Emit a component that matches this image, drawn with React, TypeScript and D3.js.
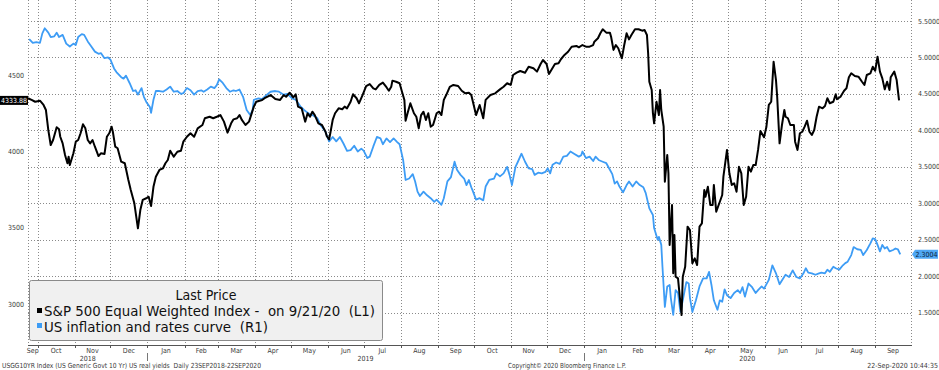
import React from "react";
import * as d3 from "d3";

const W = 939;
const H = 370;

const spxDates = [
"2018-09-23","2018-09-26","2018-09-29","2018-10-03","2018-10-06","2018-10-08","2018-10-10","2018-10-12","2018-10-14","2018-10-17",
"2018-10-19","2018-10-20","2018-10-22","2018-10-24","2018-10-26","2018-10-27","2018-10-28","2018-10-31","2018-11-02","2018-11-04",
"2018-11-06","2018-11-08","2018-11-10","2018-11-12","2018-11-14","2018-11-16","2018-11-18","2018-11-21","2018-11-23","2018-11-26",
"2018-11-28","2018-11-30","2018-12-02","2018-12-03","2018-12-05","2018-12-07","2018-12-10","2018-12-13","2018-12-16","2018-12-18",
"2018-12-21","2018-12-24","2018-12-26","2018-12-28","2018-12-31","2019-01-02","2019-01-04","2019-01-06","2019-01-08","2019-01-11",
"2019-01-14","2019-01-16","2019-01-18","2019-01-20","2019-01-23","2019-01-26","2019-01-29","2019-01-31","2019-02-03","2019-02-06",
"2019-02-09","2019-02-12","2019-02-16","2019-02-18","2019-02-22","2019-02-25","2019-02-28","2019-03-03","2019-03-06","2019-03-09",
"2019-03-12","2019-03-14","2019-03-17","2019-03-19","2019-03-21","2019-03-24","2019-03-27","2019-03-31","2019-04-02","2019-04-07",
"2019-04-09","2019-04-14","2019-04-18","2019-04-22","2019-04-25","2019-04-27","2019-04-30","2019-05-03","2019-05-05","2019-05-07",
"2019-05-10","2019-05-13","2019-05-15","2019-05-17","2019-05-19","2019-05-21","2019-05-24","2019-05-27","2019-05-30","2019-05-31",
"2019-06-02","2019-06-03","2019-06-05","2019-06-07","2019-06-10","2019-06-13","2019-06-15","2019-06-17","2019-06-20","2019-06-22",
"2019-06-25","2019-06-27","2019-06-30","2019-07-03","2019-07-06","2019-07-09","2019-07-11","2019-07-14","2019-07-17","2019-07-20",
"2019-07-22","2019-07-24","2019-07-25","2019-07-28","2019-07-31","2019-08-02","2019-08-04","2019-08-05","2019-08-07","2019-08-09",
"2019-08-12","2019-08-14","2019-08-16","2019-08-18","2019-08-20","2019-08-22","2019-08-24","2019-08-26","2019-08-28","2019-08-31",
"2019-09-02","2019-09-04","2019-09-06","2019-09-08","2019-09-11","2019-09-14","2019-09-18","2019-09-21","2019-09-24","2019-09-27",
"2019-09-29","2019-10-03","2019-10-06","2019-10-09","2019-10-11","2019-10-15","2019-10-19","2019-10-23","2019-10-26","2019-10-29",
"2019-11-01","2019-11-03","2019-11-06","2019-11-09","2019-11-13","2019-11-16","2019-11-20","2019-11-23","2019-11-26","2019-11-28",
"2019-12-01","2019-12-03","2019-12-05","2019-12-08","2019-12-11","2019-12-13","2019-12-16","2019-12-19","2019-12-22","2019-12-26",
"2019-12-28","2019-12-31","2020-01-03","2020-01-06","2020-01-09","2020-01-10","2020-01-13","2020-01-15","2020-01-17","2020-01-20",
"2020-01-23","2020-01-24","2020-01-26","2020-01-28","2020-01-30","2020-02-02","2020-02-04","2020-02-06","2020-02-08","2020-02-10",
"2020-02-13","2020-02-16","2020-02-19","2020-02-21","2020-02-23","2020-02-24","2020-02-25","2020-02-27","2020-02-28","2020-02-29",
"2020-03-02","2020-03-04","2020-03-05","2020-03-06","2020-03-08","2020-03-09","2020-03-11","2020-03-12","2020-03-13","2020-03-15",
"2020-03-16","2020-03-17","2020-03-18","2020-03-20","2020-03-23","2020-03-24","2020-03-26","2020-03-28","2020-03-30","2020-04-01",
"2020-04-03","2020-04-05","2020-04-07","2020-04-09","2020-04-11","2020-04-12","2020-04-14","2020-04-16","2020-04-18","2020-04-19",
"2020-04-21","2020-04-24","2020-04-26","2020-04-27","2020-04-30","2020-05-02","2020-05-04","2020-05-06","2020-05-08","2020-05-10",
"2020-05-12","2020-05-14","2020-05-16","2020-05-18","2020-05-20","2020-05-22","2020-05-24","2020-05-26","2020-05-28","2020-05-31",
"2020-06-02","2020-06-04","2020-06-06","2020-06-08","2020-06-10","2020-06-11","2020-06-13","2020-06-15","2020-06-17","2020-06-18",
"2020-06-20","2020-06-22","2020-06-25","2020-06-26","2020-06-28","2020-06-30","2020-07-02","2020-07-04","2020-07-06","2020-07-08",
"2020-07-10","2020-07-12","2020-07-14","2020-07-16","2020-07-19","2020-07-21","2020-07-23","2020-07-25","2020-07-28","2020-07-30",
"2020-07-31","2020-08-03","2020-08-06","2020-08-08","2020-08-10","2020-08-12","2020-08-15","2020-08-18","2020-08-21","2020-08-23",
"2020-08-25","2020-08-28","2020-08-30","2020-09-01","2020-09-03","2020-09-05","2020-09-07","2020-09-09","2020-09-11","2020-09-13",
"2020-09-14","2020-09-17","2020-09-19","2020-09-21"
];
const spxValues = [
4348,4337,4325,4332,4304,4271,4140,4042,4075,4158,
4145,4096,4053,3977,3923,3966,3911,3988,4064,4075,
4119,4178,4151,4075,4053,4075,4031,3970,3988,3983,
4096,4119,4162,4129,4031,4021,3933,3923,3813,3748,
3661,3497,3617,3683,3694,3704,3643,3769,3835,3879,
3890,3923,3944,4005,3966,3998,4005,4064,4096,4119,
4096,4151,4173,4217,4227,4217,4227,4238,4195,4123,
4184,4210,4217,4238,4206,4173,4195,4293,4325,4337,
4348,4369,4343,4337,4369,4358,4384,4354,4374,4293,
4282,4195,4250,4227,4260,4238,4184,4173,4129,4101,
4079,4119,4206,4250,4282,4276,4293,4282,4325,4374,
4348,4315,4369,4428,4441,4413,4406,4435,4450,4420,
4397,4423,4463,4456,4446,4391,4337,4201,4260,4315,
4250,4227,4151,4238,4260,4206,4250,4162,4173,4250,
4260,4238,4337,4369,4423,4435,4428,4397,4380,4384,
4369,4238,4304,4217,4337,4369,4380,4406,4423,4446,
4435,4500,4515,4526,4515,4554,4544,4522,4572,4598,
4572,4507,4533,4572,4577,4603,4631,4652,4685,4690,
4681,4696,4685,4685,4696,4718,4740,4773,4799,4777,
4777,4750,4664,4696,4675,4609,4696,4773,4733,4762,
4799,4799,4790,4794,4762,4642,4456,4402,4250,4184,
4325,4238,4402,4271,4162,3802,3977,3857,3388,3650,
3203,3454,3181,3170,2930,3181,3246,3508,3486,3269,
3301,3257,3508,3530,3748,3704,3769,3650,3650,3781,
3606,3671,3715,3835,4010,3857,3781,3792,3737,3900,
3857,3650,3704,3900,3868,3911,3911,4010,4134,4093,
4162,4304,4325,4587,4467,4358,4053,4173,4271,4227,
4217,4173,4173,4064,4010,4119,4129,4162,4201,4129,
4108,4140,4227,4293,4282,4297,4348,4315,4325,4374,
4341,4358,4397,4413,4485,4511,4493,4489,4456,4435,
4500,4511,4554,4528,4620,4522,4478,4406,4456,4402,
4485,4522,4467,4333.88
];

const ryDates = [
"2018-09-24","2018-09-27","2018-09-30","2018-10-03","2018-10-05","2018-10-07","2018-10-10","2018-10-12","2018-10-15","2018-10-17",
"2018-10-19","2018-10-22","2018-10-25","2018-10-28","2018-10-31","2018-11-02","2018-11-04","2018-11-07","2018-11-09","2018-11-12",
"2018-11-15","2018-11-18","2018-11-21","2018-11-23","2018-11-26","2018-11-29","2018-12-01","2018-12-04","2018-12-06","2018-12-10",
"2018-12-12","2018-12-14","2018-12-17","2018-12-20","2018-12-22","2018-12-24","2018-12-27","2018-12-29","2018-12-31","2019-01-03",
"2019-01-04","2019-01-06","2019-01-08","2019-01-11","2019-01-14","2019-01-17","2019-01-20","2019-01-23","2019-01-26","2019-01-29",
"2019-01-31","2019-02-03","2019-02-06","2019-02-09","2019-02-12","2019-02-15","2019-02-17","2019-02-20","2019-02-23","2019-02-26",
"2019-02-28","2019-03-02","2019-03-05","2019-03-08","2019-03-11","2019-03-14","2019-03-16","2019-03-19","2019-03-22","2019-03-25",
"2019-03-28","2019-03-30","2019-03-31","2019-04-04","2019-04-07","2019-04-11","2019-04-14","2019-04-18","2019-04-21","2019-04-25",
"2019-04-28","2019-05-02","2019-05-05","2019-05-09","2019-05-12","2019-05-16","2019-05-19","2019-05-23","2019-05-26","2019-05-30",
"2019-06-02","2019-06-05","2019-06-08","2019-06-11","2019-06-14","2019-06-17","2019-06-20","2019-06-23","2019-06-26","2019-06-29",
"2019-07-01","2019-07-04","2019-07-06","2019-07-09","2019-07-12","2019-07-15","2019-07-17","2019-07-20","2019-07-23","2019-07-26",
"2019-07-29","2019-07-31","2019-08-03","2019-08-05","2019-08-08","2019-08-11","2019-08-13","2019-08-15","2019-08-17","2019-08-20",
"2019-08-23","2019-08-26","2019-08-29","2019-08-31","2019-09-04","2019-09-06","2019-09-09","2019-09-12","2019-09-15","2019-09-17",
"2019-09-20","2019-09-23","2019-09-25","2019-09-27","2019-09-29","2019-09-30","2019-10-03","2019-10-06","2019-10-09","2019-10-11",
"2019-10-14","2019-10-18","2019-10-20","2019-10-23","2019-10-26","2019-10-29","2019-10-31","2019-11-02","2019-11-05","2019-11-07",
"2019-11-10","2019-11-13","2019-11-16","2019-11-19","2019-11-21","2019-11-24","2019-11-27","2019-11-30","2019-12-02","2019-12-04",
"2019-12-06","2019-12-09","2019-12-12","2019-12-15","2019-12-18","2019-12-21","2019-12-24","2019-12-28","2019-12-30","2019-12-31",
"2020-01-03","2020-01-06","2020-01-09","2020-01-11","2020-01-14","2020-01-17","2020-01-20","2020-01-23","2020-01-25","2020-01-27",
"2020-01-29","2020-01-31","2020-02-03","2020-02-06","2020-02-08","2020-02-11","2020-02-14","2020-02-17","2020-02-20","2020-02-22",
"2020-02-25","2020-02-28","2020-02-29","2020-03-03","2020-03-04","2020-03-06","2020-03-07","2020-03-09","2020-03-11","2020-03-13",
"2020-03-14","2020-03-16","2020-03-18","2020-03-20","2020-03-22","2020-03-24","2020-03-27","2020-03-29","2020-03-30","2020-04-01",
"2020-04-04","2020-04-07","2020-04-10","2020-04-13","2020-04-15","2020-04-17","2020-04-19","2020-04-22","2020-04-24","2020-04-26",
"2020-04-28","2020-04-30","2020-05-03","2020-05-06","2020-05-09","2020-05-11","2020-05-13","2020-05-15","2020-05-18","2020-05-21",
"2020-05-24","2020-05-26","2020-05-29","2020-05-31","2020-06-04","2020-06-07","2020-06-10","2020-06-13","2020-06-16","2020-06-18",
"2020-06-21","2020-06-24","2020-06-27","2020-06-30","2020-07-03","2020-07-05","2020-07-07","2020-07-10","2020-07-13","2020-07-16",
"2020-07-18","2020-07-21","2020-07-23","2020-07-25","2020-07-28","2020-07-30","2020-08-02","2020-08-05","2020-08-07","2020-08-09",
"2020-08-12","2020-08-14","2020-08-17","2020-08-20","2020-08-22","2020-08-25","2020-08-28","2020-08-30","2020-09-01","2020-09-03",
"2020-09-05","2020-09-07","2020-09-09","2020-09-11","2020-09-13","2020-09-16","2020-09-18","2020-09-20","2020-09-22"
];
const ryValues = [
5.25,5.20,5.21,5.20,5.33,5.40,5.34,5.28,5.29,5.34,
5.28,5.31,5.19,5.15,5.19,5.17,5.28,5.32,5.31,5.22,
5.15,5.08,5.05,5.06,4.99,5.00,4.97,4.85,4.80,4.73,
4.71,4.75,4.65,4.54,4.55,4.49,4.58,4.46,4.39,4.32,
4.24,4.42,4.54,4.54,4.53,4.56,4.60,4.53,4.54,4.50,
4.51,4.58,4.55,4.49,4.54,4.55,4.53,4.56,4.60,4.58,
4.62,4.70,4.65,4.58,4.53,4.55,4.54,4.56,4.46,4.28,
4.21,4.28,4.42,4.44,4.43,4.49,4.53,4.54,4.53,4.49,
4.50,4.44,4.42,4.33,4.28,4.23,4.21,4.17,4.07,3.98,
3.85,3.91,3.85,3.91,3.82,3.72,3.73,3.79,3.71,3.75,
3.72,3.62,3.64,3.78,3.91,3.89,3.81,3.89,3.84,3.89,
3.84,3.81,3.59,3.32,3.34,3.40,3.30,3.16,3.10,3.16,
3.11,3.07,3.02,3.05,2.98,3.07,3.30,3.36,3.57,3.46,
3.39,3.34,3.25,3.32,3.22,3.18,3.05,3.07,3.04,3.23,
3.32,3.34,3.41,3.37,3.41,3.50,3.39,3.25,3.50,3.57,
3.68,3.57,3.48,3.47,3.39,3.42,3.41,3.43,3.48,3.41,
3.53,3.56,3.54,3.64,3.65,3.71,3.68,3.64,3.66,3.71,
3.62,3.64,3.58,3.64,3.59,3.57,3.55,3.46,3.40,3.27,
3.30,3.23,3.15,3.25,3.30,3.23,3.30,3.25,3.22,3.14,
2.93,2.84,2.66,2.50,2.54,2.43,2.13,1.58,1.86,1.88,
1.70,1.47,1.81,1.77,1.51,1.67,1.92,1.90,1.70,1.51,
1.67,1.86,1.97,1.97,2.06,1.88,1.67,1.54,1.67,1.65,
1.82,1.74,1.70,1.77,1.81,1.77,1.85,1.72,1.90,1.85,
1.77,1.81,1.86,1.83,1.95,2.15,2.04,1.89,1.97,2.02,
1.99,2.08,1.99,1.97,2.04,2.11,2.05,2.04,2.02,2.04,
2.05,2.04,2.09,2.06,2.13,2.11,2.09,2.15,2.18,2.20,
2.29,2.40,2.37,2.36,2.29,2.36,2.45,2.52,2.51,2.43,
2.34,2.43,2.38,2.40,2.34,2.36,2.38,2.37,2.3004
];

const leftTicks = [3000, 3500, 4000, 4500];
const rightTicks = [1.5, 2, 2.5, 3, 3.5, 4, 4.5, 5, 5.5];
const legendTitle = "Last Price";
const spxLabel = "S&P 500 Equal Weighted Index -  on 9/21/20  (L1)";
const ryLabel = "US inflation and rates curve  (R1)";
const footerLeft = "USGG10YR Index (US Generic Govt 10 Yr) US real yields  Daily 23SEP2018-22SEP2020";
const footerMid = "Copyright\u00a9 2020 Bloomberg Finance L.P.";
const footerRight = "22-Sep-2020 10:44:35";
const spxLast = "4333.88";
const ryLast = "2.3004";

const BLACK = "#000000";
const BLUE = "#3d9cf5";
const GRID = "#8a8a8a";
const TEXT = "#3a3a3a";
const FONT = "Tahoma, 'DejaVu Sans Condensed', 'DejaVu Sans', sans-serif";

const parse = d3.timeParse("%Y-%m-%d");

export default function App() {
  const L = 28, R = 911, T = 0, B = 345;
  const d0 = new Date(2018, 8, 23);
  const d1 = new Date(2020, 9, 1);
  const x = d3.scaleTime().domain([d0, d1]).range([L, R]);
  const yL = d3.scaleLinear().domain([2734.2, 4990.5]).range([B, T]);
  const yR = d3.scaleLinear().domain([1.057, 5.788]).range([B, T]);

  const spx = spxDates.map((d, i) => ({ d: parse(d) as Date, v: spxValues[i] }));
  const ry = ryDates.map((d, i) => ({ d: parse(d) as Date, v: ryValues[i] }));

  const spxLine = d3.line<{ d: Date; v: number }>().x(p => x(p.d)).y(p => yL(p.v))(spx) || "";
  const ryLine = d3.line<{ d: Date; v: number }>().x(p => x(p.d)).y(p => yR(p.v))(ry) || "";

  const monthStarts = d3.timeMonth.range(new Date(2018, 9, 1), d1);
  const months = d3.timeMonth.range(new Date(2018, 8, 1), d1);
  const fmtMonth = d3.timeFormat("%b");
  const years = [2018, 2019, 2020];
  const yearSeps = [new Date(2019, 0, 1), new Date(2020, 0, 1)];

  const px = (v: number) => Math.round(v) + 0.5;

  const spxY = yL(+spxLast);
  const ryY = yR(+ryLast);

  return (
    <svg width={W} height={H} viewBox={`0 0 ${W} ${H}`}
      style={{ position: "absolute", left: 0, top: 0, background: "#fff", fontFamily: FONT }}>
      <rect x={0} y={0} width={W} height={H} fill="#fff" />
      {/* horizontal grid */}
      {rightTicks.map(t => (
        <line key={"h" + t} x1={L} x2={R} y1={px(yR(t))} y2={px(yR(t))}
          stroke={GRID} strokeWidth={1} strokeDasharray="1,2" />
      ))}
      {/* vertical grid */}
      {[d0, ...monthStarts, d1].map((m, i) => (
        <line key={"v" + i} x1={px(x(m))} x2={px(x(m))} y1={T} y2={B}
          stroke={GRID} strokeWidth={1} strokeDasharray="1,2" />
      ))}
      {/* bottom axis */}
      <line x1={L} x2={R + 1} y1={B + 0.5} y2={B + 0.5} stroke="#555" strokeWidth={1} />
      {monthStarts.map((m, i) => (
        <line key={"t" + i} x1={px(x(m))} x2={px(x(m))} y1={B} y2={B + 3} stroke="#555" strokeWidth={1} />
      ))}
      {months.map((m, i) => {
        const a = Math.max(x(m), L);
        const b = Math.min(x(d3.timeMonth.offset(m, 1)), R);
        return (
          <text key={"m" + i} x={(a + b) / 2} y={353} fontSize={7} fill={TEXT} textAnchor="middle">
            {fmtMonth(m)}
          </text>
        );
      })}
      {years.map(yr => {
        const a = Math.max(x(new Date(yr, 0, 1)), L);
        const b = Math.min(x(new Date(yr + 1, 0, 1)), R);
        return (
          <text key={"y" + yr} x={(a + b) / 2} y={361} fontSize={7} fill={TEXT} textAnchor="middle">
            {yr}
          </text>
        );
      })}
      {yearSeps.map((s, i) => (
        <line key={"s" + i} x1={px(x(s))} x2={px(x(s))} y1={353} y2={361} stroke="#777" strokeWidth={1} />
      ))}
      {/* left axis labels */}
      {leftTicks.map(t => (
        <text key={"l" + t} x={24} y={yL(t) + 2.5} fontSize={7} fill={TEXT} textAnchor="end">{t}</text>
      ))}
      {/* right axis labels */}
      {rightTicks.map(t => (
        <text key={"r" + t} x={918} y={yR(t) + 2.5} fontSize={7} fill={TEXT}>{t.toFixed(4)}</text>
      ))}
      {/* series */}
      <path d={ryLine} fill="none" stroke={BLUE} strokeWidth={1.8} strokeLinejoin="round" />
      <path d={spxLine} fill="none" stroke={BLACK} strokeWidth={2} strokeLinejoin="round" />
      {/* last price tags */}
      <rect x={0} y={spxY - 4.5} width={28} height={9} fill="#000" />
      <text x={14} y={spxY + 2.5} fontSize={7} fill="#fff" textAnchor="middle">{spxLast}</text>
      <path d={`M912,${ryY} L915,${ryY - 4.5} L938,${ryY - 4.5} L938,${ryY + 4.5} L915,${ryY + 4.5} Z`} fill="#4fa8f5" />
      <text x={926.5} y={ryY + 2.5} fontSize={7} fill="#0a1f3a" textAnchor="middle">{ryLast}</text>
      {/* legend */}
      <rect x={29.5} y={280.5} width={353} height={60} rx={2} fill="#f0f0f0" stroke="#8a8a8a" strokeWidth={1} />
      <text x={206} y={300} fontSize={14} fill="#111" textAnchor="middle">{legendTitle}</text>
      <rect x={37} y={308} width={5} height={5} fill={BLACK} />
      <text x={44} y={316} fontSize={14} fill="#111" style={{ whiteSpace: "pre" }}
        textLength={331} lengthAdjust="spacingAndGlyphs">{spxLabel}</text>
      <rect x={37} y={323} width={5} height={5} fill={BLUE} />
      <text x={44} y={331.5} fontSize={14} fill="#111" style={{ whiteSpace: "pre" }}
        textLength={224} lengthAdjust="spacingAndGlyphs">{ryLabel}</text>
      {/* footer */}
      <text x={2} y={368} fontSize={7} fill={TEXT} style={{ whiteSpace: "pre" }}
        textLength={259} lengthAdjust="spacingAndGlyphs">{footerLeft}</text>
      <text x={508} y={368} fontSize={7} fill={TEXT} textLength={118} lengthAdjust="spacingAndGlyphs">{footerMid}</text>
      <text x={938} y={368} fontSize={7} fill={TEXT} textAnchor="end">{footerRight}</text>
    </svg>
  );
}
